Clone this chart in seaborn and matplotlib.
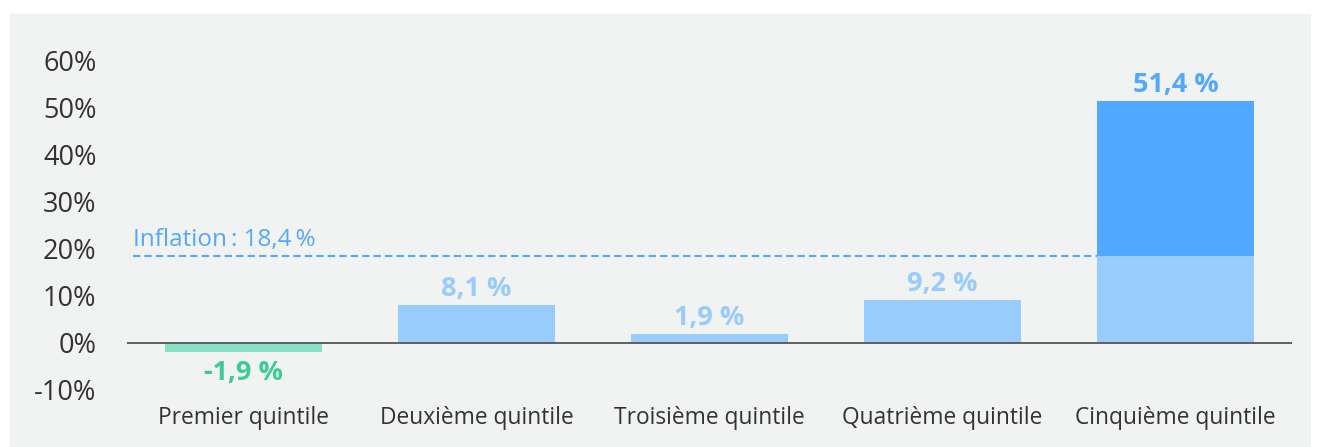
import matplotlib
matplotlib.use("Agg")
import matplotlib.pyplot as plt
import seaborn as sns
import pandas as pd
from matplotlib.patches import Rectangle

# data
quintiles = ["Premier quintile", "Deuxième quintile", "Troisième quintile",
             "Quatrième quintile", "Cinquième quintile"]
growth = [-1.9, 8.1, 1.9, 9.2, 51.4]
value_labels = ["-1,9 %", "8,1 %", "1,9 %", "9,2 %", "51,4 %"]
inflation = 18.4
inflation_label = "Inflation\u2009: 18,4\u2009%"
yticks = [-10, 0, 10, 20, 30, 40, 50, 60]

green = "#86e0c6"
green_txt = "#3dcb93"
light = "#99cbfd"
dark = "#52a8ff"
grey_txt = "#333333"

sns.set_theme(style="white")
plt.rcParams["font.family"] = ["Open Sans", "DejaVu Sans"]

df = pd.DataFrame({"q": quintiles, "v": growth})
# part of each bar that stays under the inflation line
df["low"] = [min(v, inflation) for v in growth]

fig = plt.figure(figsize=(13.25, 4.47), dpi=100, facecolor="white")
bg = Rectangle((10 / 1325, 0), 1300 / 1325, 433 / 447,
               transform=fig.transFigure, color="#f1f2f2", zorder=-10)
fig.patches.append(bg)
ax = fig.add_axes([127 / 1325, 0.117, 1165 / 1325, 0.789])
ax.set_facecolor("none")

full_cols = [green, light, light, light, dark]
low_cols = [green, light, light, light, light]
sns.barplot(data=df, x="q", y="v", hue="q", palette=full_cols, width=0.674,
            legend=False, ax=ax, saturation=1, linewidth=0, zorder=2)
sns.barplot(data=df, x="q", y="low", hue="q", palette=low_cols, width=0.674,
            legend=False, ax=ax, saturation=1, linewidth=0, zorder=3)

ax.axhline(0, color="#555555", lw=1.3, zorder=4)
ax.hlines(inflation, -0.474, 3.663, color=dark, lw=1.5, linestyles=(0, (3.5, 2)), zorder=4)
ax.text(-0.474, inflation + 1.0, inflation_label, color=dark, fontsize=17.5,
        ha="left", va="bottom")

for i, (v, lab) in enumerate(zip(growth, value_labels)):
    c = green_txt if v < 0 else (dark if v > inflation else light)
    if v < 0:
        ax.annotate(lab, (i, v), xytext=(0, -6), textcoords="offset points",
                    ha="center", va="top", fontsize=19.5, fontweight="bold", color=c)
    else:
        ax.annotate(lab, (i, v), xytext=(0, 2), textcoords="offset points",
                    ha="center", va="bottom", fontsize=19.5, fontweight="bold", color=c)

ax.set_xlim(-0.5, 4.5)
ax.set_ylim(-11, 64)
ax.set_yticks(yticks)
ax.set_yticklabels([f"{t}%" for t in yticks], fontsize=19.5, color=grey_txt)
ax.tick_params(axis="y", length=0, pad=22)
ax.tick_params(axis="x", length=0, pad=8, labelsize=16.4, labelcolor=grey_txt)
ax.set_xlabel("")
ax.set_ylabel("")
sns.despine(ax=ax, left=True, bottom=True)

plt.savefig("out.png", dpi=100, facecolor="white")
